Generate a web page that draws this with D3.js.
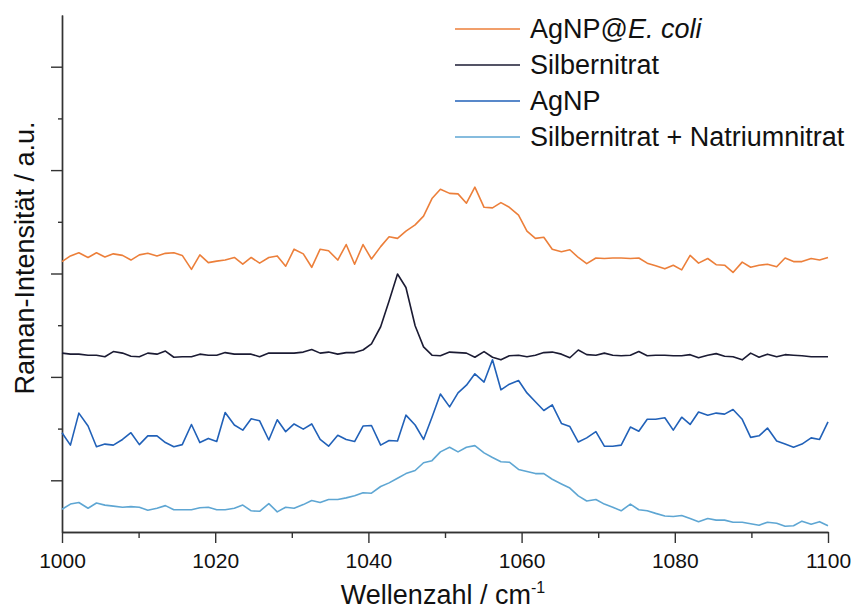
<!DOCTYPE html>
<html>
<head>
<meta charset="utf-8">
<script src="https://cdn.jsdelivr.net/npm/d3@7"></script>
<style>
  body { margin: 0; background: #fff; }
  svg { font-family: "Liberation Sans", Arial, sans-serif; }
  .axis path, .axis line { stroke: #333; stroke-width: 1.4; }
</style>
</head>
<body>
<svg width="856" height="609"></svg>
<script>
// Wellenzahl (cm-1)
const wavenumber = [1000.0, 1001.1, 1002.2, 1003.4, 1004.5, 1005.6, 1006.7, 1007.9, 1009.0, 1010.1,
  1011.2, 1012.4, 1013.5, 1014.6, 1015.7, 1016.9, 1018.0, 1019.1, 1020.2, 1021.3,
  1022.5, 1023.6, 1024.7, 1025.8, 1027.0, 1028.1, 1029.2, 1030.3, 1031.5, 1032.6,
  1033.7, 1034.8, 1036.0, 1037.1, 1038.2, 1039.3, 1040.4, 1041.6, 1042.7, 1043.8,
  1044.9, 1046.1, 1047.2, 1048.3, 1049.4, 1050.6, 1051.7, 1052.8, 1053.9, 1055.1,
  1056.2, 1057.3, 1058.4, 1059.6, 1060.7, 1061.8, 1062.9, 1064.0, 1065.2, 1066.3,
  1067.4, 1068.5, 1069.7, 1070.8, 1071.9, 1073.0, 1074.2, 1075.3, 1076.4, 1077.5,
  1078.7, 1079.8, 1080.9, 1082.0, 1083.1, 1084.3, 1085.4, 1086.5, 1087.6, 1088.8,
  1089.9, 1091.0, 1092.1, 1093.3, 1094.4, 1095.5, 1096.6, 1097.8, 1098.9, 1100.0];

// Intensitäten (a.u., gestapelt)
const agnpEcoli = [5.23, 5.34, 5.40, 5.31, 5.40, 5.32, 5.38, 5.35, 5.26, 5.36,
  5.39, 5.34, 5.39, 5.40, 5.35, 5.08, 5.36, 5.21, 5.24, 5.26,
  5.31, 5.18, 5.31, 5.20, 5.31, 5.34, 5.14, 5.47, 5.38, 5.12,
  5.47, 5.44, 5.26, 5.56, 5.18, 5.56, 5.28, 5.52, 5.71, 5.68,
  5.82, 5.94, 6.11, 6.45, 6.63, 6.55, 6.54, 6.36, 6.67, 6.28,
  6.27, 6.37, 6.28, 6.13, 5.82, 5.68, 5.70, 5.47, 5.42, 5.46,
  5.31, 5.19, 5.30, 5.29, 5.30, 5.30, 5.29, 5.30, 5.20, 5.15,
  5.09, 5.16, 5.07, 5.35, 5.20, 5.29, 5.17, 5.16, 5.02, 5.22,
  5.12, 5.16, 5.18, 5.13, 5.30, 5.23, 5.23, 5.29, 5.26, 5.31];

const silbernitrat = [3.46, 3.44, 3.44, 3.42, 3.42, 3.39, 3.49, 3.46, 3.40, 3.39,
  3.46, 3.44, 3.50, 3.38, 3.39, 3.39, 3.44, 3.42, 3.42, 3.47,
  3.44, 3.44, 3.44, 3.39, 3.46, 3.46, 3.46, 3.46, 3.48, 3.53,
  3.46, 3.48, 3.44, 3.47, 3.47, 3.52, 3.64, 3.97, 4.47, 4.99,
  4.73, 3.99, 3.58, 3.42, 3.41, 3.48, 3.47, 3.46, 3.38, 3.49,
  3.38, 3.33, 3.41, 3.42, 3.39, 3.42, 3.47, 3.48, 3.44, 3.37,
  3.52, 3.43, 3.42, 3.46, 3.42, 3.41, 3.42, 3.49, 3.41, 3.42,
  3.42, 3.41, 3.41, 3.43, 3.37, 3.42, 3.45, 3.40, 3.39, 3.33,
  3.46, 3.38, 3.44, 3.39, 3.43, 3.42, 3.41, 3.39, 3.39, 3.39];

const agnp = [1.92, 1.68, 2.30, 2.05, 1.65, 1.70, 1.68, 1.79, 1.92, 1.69,
  1.86, 1.86, 1.73, 1.65, 1.69, 2.08, 1.73, 1.81, 1.75, 2.31,
  2.07, 1.97, 2.19, 2.15, 1.78, 2.17, 1.94, 2.09, 1.99, 2.09,
  1.79, 1.66, 1.87, 1.79, 1.75, 2.05, 2.06, 1.68, 1.77, 1.76,
  2.26, 2.07, 1.79, 2.22, 2.67, 2.42, 2.69, 2.84, 3.06, 2.90,
  3.33, 2.75, 2.86, 2.93, 2.69, 2.52, 2.35, 2.46, 2.10, 2.04,
  1.74, 1.82, 1.94, 1.66, 1.66, 1.68, 2.03, 1.95, 2.18, 2.18,
  2.21, 1.97, 2.22, 2.08, 2.32, 2.26, 2.30, 2.28, 2.37, 2.18,
  1.83, 1.86, 2.01, 1.76, 1.70, 1.64, 1.70, 1.82, 1.79, 2.13];

const silberNatrium = [0.44, 0.54, 0.57, 0.46, 0.56, 0.52, 0.50, 0.48, 0.49, 0.48,
  0.42, 0.46, 0.51, 0.43, 0.43, 0.43, 0.47, 0.48, 0.43, 0.43,
  0.46, 0.52, 0.41, 0.40, 0.55, 0.39, 0.48, 0.46, 0.53, 0.61,
  0.57, 0.63, 0.63, 0.66, 0.70, 0.76, 0.75, 0.88, 0.95, 1.04,
  1.13, 1.19, 1.34, 1.38, 1.55, 1.64, 1.55, 1.64, 1.67, 1.53,
  1.44, 1.36, 1.35, 1.21, 1.17, 1.13, 1.13, 1.02, 0.93, 0.85,
  0.70, 0.60, 0.63, 0.54, 0.48, 0.41, 0.54, 0.43, 0.41, 0.36,
  0.31, 0.30, 0.32, 0.26, 0.20, 0.26, 0.23, 0.23, 0.19, 0.19,
  0.16, 0.13, 0.19, 0.17, 0.11, 0.12, 0.21, 0.15, 0.20, 0.12];

const seriesNames = ["AgNP@E. coli", "Silbernitrat", "AgNP", "Silbernitrat + Natriumnitrat"];
const seriesValues = [agnpEcoli, silbernitrat, agnp, silberNatrium];
const seriesColors = ["#ec7f3a", "#1b1b33", "#2161b8", "#5ea6d3"];

const xMajor = [1000, 1020, 1040, 1060, 1080, 1100];
const xMinor = [1010, 1030, 1050, 1070, 1090];
const yMajor = [1, 3, 5, 7, 9];
const yMinor = [2, 4, 6, 8];

var svg = d3.select("svg");

var x = d3.scaleLinear().domain([1000, 1100]).range([62, 828]);
var y = d3.scaleLinear().domain([0, 10]).range([532, 15]);

// Achsen
svg.append("g")
  .attr("class", "axis")
  .attr("transform", "translate(0,532)")
  .call(d3.axisBottom(x).tickValues(xMinor).tickSize(6).tickSizeOuter(0).tickFormat(""));

const xAxis = svg.append("g")
  .attr("class", "axis")
  .attr("transform", "translate(0,532)")
  .call(d3.axisBottom(x).tickValues(xMajor).tickSize(11).tickSizeOuter(0).tickPadding(10).tickFormat(d3.format("d")));
xAxis.selectAll("text")
  .attr("font-size", 21)
  .attr("font-family", "'Liberation Sans', Arial, sans-serif")
  .attr("fill", "#111");

svg.append("g")
  .attr("class", "axis")
  .attr("transform", "translate(62,0)")
  .call(d3.axisLeft(y).tickValues(yMinor).tickSize(4).tickSizeOuter(0).tickFormat(""));

svg.append("g")
  .attr("class", "axis")
  .attr("transform", "translate(62,0)")
  .call(d3.axisLeft(y).tickValues(yMajor).tickSize(11).tickSizeOuter(0).tickFormat(""));

// Spektren
var line = d3.line()
  .x((d, i) => x(wavenumber[i]))
  .y(d => y(d));

svg.selectAll(".spectrum")
  .data(seriesValues)
  .enter()
  .append("path")
    .attr("class", "spectrum")
    .attr("d", line)
    .attr("fill", "none")
    .attr("stroke", (d, i) => seriesColors[i])
    .attr("stroke-width", 1.6)
    .attr("stroke-linejoin", "round");

// Achsentitel
const xTitle = svg.append("text")
  .attr("x", 443)
  .attr("y", 604)
  .attr("text-anchor", "middle")
  .attr("font-size", 27)
  .attr("fill", "#111");
xTitle.append("tspan").text("Wellenzahl / cm");
xTitle.append("tspan").attr("font-size", 16).attr("dy", -11).text("-1");

svg.append("text")
  .attr("transform", "translate(34,258) rotate(-90)")
  .attr("text-anchor", "middle")
  .attr("font-size", 27)
  .attr("fill", "#111")
  .text("Raman-Intensität / a.u.");

// Legende
const legend = svg.selectAll(".legend")
  .data(seriesNames)
  .enter()
  .append("g")
    .attr("class", "legend")
    .attr("transform", (d, i) => "translate(455," + (29 + i * 36) + ")");

legend.append("line")
  .attr("x1", 0).attr("x2", 65)
  .attr("stroke", (d, i) => seriesColors[i])
  .attr("stroke-width", 1.6);

const legendText = legend.append("text")
  .attr("x", 75)
  .attr("y", 9)
  .attr("font-size", 27)
  .attr("fill", "#111");

legendText.each(function(d) {
  const t = d3.select(this);
  if (d === "AgNP@E. coli") {
    t.append("tspan").text("AgNP@");
    t.append("tspan").attr("font-style", "italic").text("E. coli");
  } else {
    t.text(d);
  }
});
</script>
</body>
</html>
